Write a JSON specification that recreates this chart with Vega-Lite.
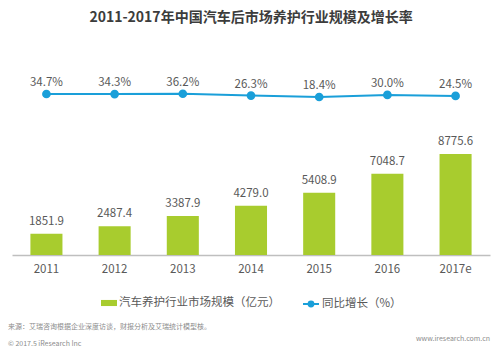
{
  "$schema": "https://vega.github.io/schema/vega-lite/v6.json",
  "padding": {"left": 8, "top": 11, "right": 10, "bottom": 4},
  "background": "white",
  "config": {
    "font": "Noto Sans CJK SC",
    "view": {"stroke": null},
    "concat": {"spacing": 0},
    "legend": {"orient": "bottom", "direction": "horizontal", "labelFont": "Noto Sans CJK SC", "labelFontSize": 11.5, "labelColor": "#595959", "title": null, "labelLimit": 400, "offset": 20,
      "layout": {"bottom": {"anchor": "middle", "direction": "horizontal", "margin": 22}}}
  },
  "title": {"text": "www.iresearch.com.cn", "orient": "bottom", "anchor": "end", "fontSize": 7, "fontWeight": "normal", "color": "#8c8c8c", "offset": -12},
  "vconcat": [
    {
      "title": {"text": "来源：艾瑞咨询根据企业深度访谈，财报分析及艾瑞统计模型核。", "subtitle": "© 2017.5 iResearch Inc", "orient": "bottom", "anchor": "start", "fontSize": 7, "fontWeight": "normal", "color": "#8c8c8c", "subtitleFontSize": 7, "subtitleColor": "#8c8c8c", "subtitlePadding": 10, "offset": 12, "dx": -4},
      "vconcat": [
        {
          "title": {"text": "2011-2017年中国汽车后市场养护行业规模及增长率", "fontSize": 14, "fontWeight": "bold", "color": "#3c3c3c", "anchor": "middle", "offset": 14},
          "width": 478,
          "height": 216,
          "data": {"values": [
            {"year": "2011", "size": 1851.9, "growth": 0.347},
            {"year": "2012", "size": 2487.4, "growth": 0.343},
            {"year": "2013", "size": 3387.9, "growth": 0.362},
            {"year": "2014", "size": 4279.0, "growth": 0.263},
            {"year": "2015", "size": 5408.9, "growth": 0.184},
            {"year": "2016", "size": 7048.7, "growth": 0.300},
            {"year": "2017e", "size": 8775.6, "growth": 0.245}
          ]},
          "encoding": {
            "x": {"field": "year", "type": "nominal", "sort": null,
              "scale": {"paddingInner": 0.53, "paddingOuter": 0.27},
              "axis": {"title": null, "labelAngle": 0, "ticks": false, "domainColor": "#bfbfbf", "domainWidth": 1.5, "labelColor": "#595959", "labelFontSize": 11.5, "labelPadding": 8, "grid": false}}
          },
          "layer": [
            {
              "layer": [
                {
                  "mark": {"type": "bar", "color": "#a8cc2e"},
                  "encoding": {
                    "y": {"field": "size", "type": "quantitative", "scale": {"domain": [0, 18767]}, "axis": null},
                    "fill": {"datum": "汽车养护行业市场规模（亿元）", "type": "nominal", "scale": {"range": ["#a8cc2e"]},
                      "legend": {"symbolType": "M-1,-0.38H1V0.38H-1Z", "symbolSize": 256, "symbolStrokeWidth": 0, "labelOffset": 2}}
                  }
                },
                {
                  "mark": {"type": "text", "dy": -12, "fontSize": 11.5, "color": "#595959"},
                  "encoding": {
                    "y": {"field": "size", "type": "quantitative", "scale": {"domain": [0, 18767]}, "axis": null},
                    "text": {"field": "size", "type": "quantitative", "format": ".1f"}
                  }
                }
              ]
            },
            {
              "layer": [
                {
                  "mark": {"type": "line", "strokeWidth": 2, "point": {"filled": true, "size": 45, "color": "#1a9fd9"}},
                  "encoding": {
                    "y": {"field": "growth", "type": "quantitative", "scale": {"domain": [-8.4, 3.336]}, "axis": null},
                    "stroke": {"datum": "同比增长（%）", "type": "nominal", "scale": {"range": ["#1a9fd9"]},
                      "legend": {"symbolType": "M-1,0H1M-0.3,0A0.3,0.3,0,1,1,0.3,0A0.3,0.3,0,1,1,-0.3,0", "symbolSize": 256, "symbolStrokeWidth": 2, "symbolFillColor": "#1a9fd9", "labelOffset": 2}}
                  }
                },
                {
                  "mark": {"type": "text", "dy": -11, "fontSize": 11.5, "color": "#595959"},
                  "encoding": {
                    "y": {"field": "growth", "type": "quantitative", "scale": {"domain": [-8.4, 3.336]}, "axis": null},
                    "text": {"field": "growth", "type": "quantitative", "format": ".1%"}
                  }
                }
              ]
            }
          ],
          "resolve": {"scale": {"y": "independent", "fill": "independent", "stroke": "independent"}}
        }
      ]
    }
  ]
}
